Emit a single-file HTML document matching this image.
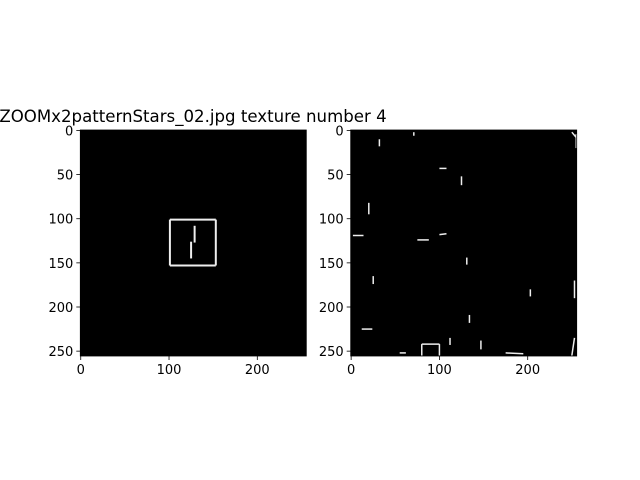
<!DOCTYPE html>
<html><head><meta charset="utf-8"><style>
body{margin:0;background:#fff;}
svg{display:block;font-family:"DejaVu Sans","Liberation Sans",sans-serif;}
</style></head><body>
<svg id="fig" width="640" height="480">
<text x="193" y="122" font-size="16.6" text-anchor="middle">ZOOMx2patternStars_02.jpg texture number 4</text>
</svg>
<script>
const xTicks=[0,100,200];
const yTicks=[0,50,100,150,200,250];
const leftSegments=[[101,101,153,101],[153,101,153,153],[153,153,101,153],[101,153,101,101],[129,108,129,127],[125,126,125,145]];
const rightSegments=[[71,2,71,6],[32,10,32,18],[250,2,255,8],[255,4,255,20],[100,43,108,43],[125,52,125,62],[20,82,20,95],[2,119,14,119],[75,124,88,124],[100,118,108,117],[131,144,131,152],[25,165,25,174],[253,170,253,190],[203,180,203,188],[134,209,134,218],[12,225,24,225],[112,235,112,243],[147,238,147,248],[80,242,100,242],[80,242,80,255],[100,242,100,255],[55,252,62,252],[175,252,195,253],[253,235,250,255]];
const NS="http://www.w3.org/2000/svg";
const fig=document.getElementById('fig');
function mk(t,a){const e=document.createElementNS(NS,t);for(const k in a)e.setAttribute(k,a[k]);fig.appendChild(e);return e;}
function drawAxes(x0,y0,w,h,segs,name,sw){
  const sx=v=>x0+(v+0.5)*w/256, sy=v=>y0+(v+0.5)*h/256;
  const bg=mk('rect',{x:x0,y:y0,width:w,height:h,fill:'#000'});
  
  
  segs.forEach(s=>{
    const l=mk('line',{x1:sx(s[0]),y1:sy(s[1]),x2:sx(s[2]),y2:sy(s[3]),stroke:'#eee','stroke-width':sw});
    
    
  });
  const fr=mk('rect',{x:x0,y:y0,width:w,height:h,fill:'none',stroke:'#000','stroke-width':0.8});
  
  
  xTicks.forEach(v=>{
    mk('line',{x1:sx(v),y1:y0+h,x2:sx(v),y2:y0+h+4,stroke:'#000','stroke-width':0.8});
    const t=mk('text',{x:sx(v),y:y0+h+18,'font-size':13,'text-anchor':'middle'});t.textContent=v;
    
    
  });
  yTicks.forEach(v=>{
    mk('line',{x1:x0-4,y1:sy(v),x2:x0,y2:sy(v),stroke:'#000','stroke-width':0.8});
    const t=mk('text',{x:x0-7,y:sy(v)+5,'font-size':13,'text-anchor':'end'});t.textContent=v;
    
    
  });
}
drawAxes(80.3,130,226,226,leftSegments,'left-panel',2);
drawAxes(350.7,130,226,226,rightSegments,'right-panel',1.5);
</script>
</body></html>
